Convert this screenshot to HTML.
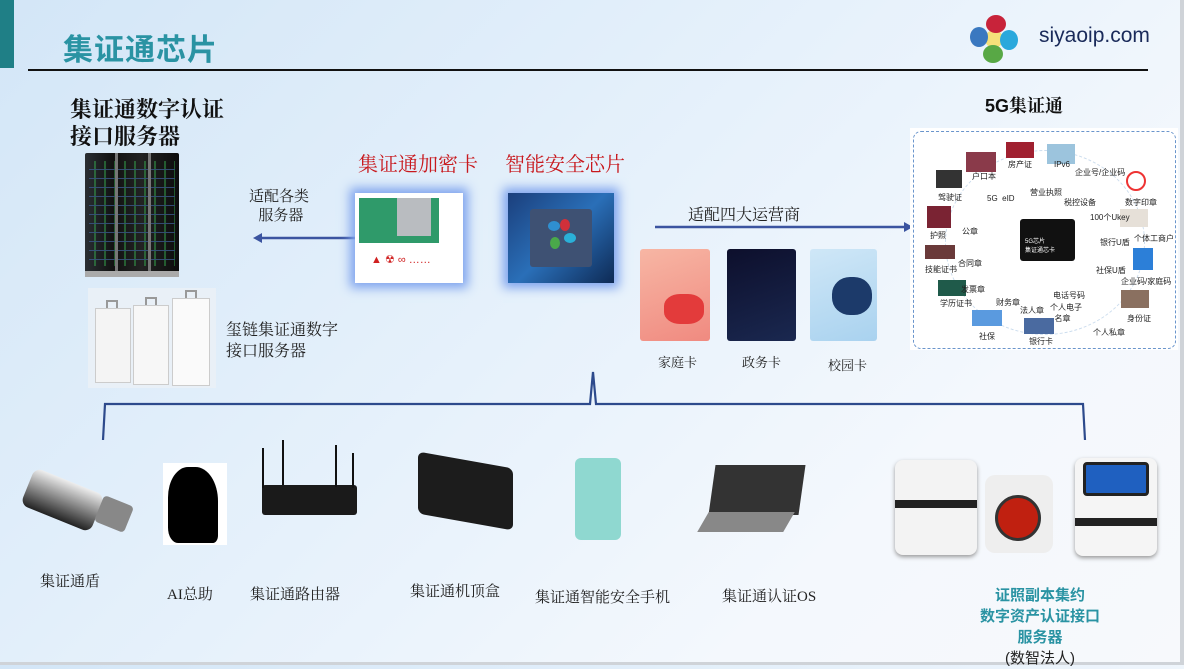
<!DOCTYPE html>
<html><head><meta charset="utf-8"><style>
*{margin:0;padding:0;box-sizing:border-box}
body{width:1184px;height:665px;overflow:hidden;position:relative;font-family:"Liberation Sans","Noto Sans CJK SC",sans-serif;background:linear-gradient(135deg,#d3e6f7 0%,#e6f1fb 45%,#f4f8fd 75%,#f7f9fc 100%)}
.a{position:absolute}
.serif{font-family:"Liberation Serif","Noto Serif CJK SC",serif}
.lbl{position:absolute;font-size:15px;color:#222;white-space:nowrap;font-family:"Liberation Serif","Noto Serif CJK SC",serif}
.sm{position:absolute;font-size:8px;color:#222;white-space:nowrap}
.led{background:repeating-linear-gradient(0deg,transparent 0 6px,#3a5a8a 6px 7px,transparent 7px 9px),repeating-linear-gradient(90deg,transparent 0 5px,rgba(60,200,90,.5) 5px 7px,transparent 7px 10px)}
</style></head><body>
<div class="a" style="left:0;top:0;width:14px;height:68px;background:#1f7f86"></div>
<div class="a" style="left:63px;top:25px;font-size:30px;font-weight:bold;color:#2a93a3;letter-spacing:1px">集证通芯片</div>
<div class="a" style="left:28px;top:69px;width:1120px;height:2px;background:#111"></div>
<div class="a" style="left:1180px;top:0;width:4px;height:665px;background:#cfd3d8"></div>
<div class="a" style="left:0;top:662px;width:1184px;height:3px;background:#cfd3d8"></div>
<svg class="a" style="left:968px;top:14px" width="52" height="50" viewBox="0 0 52 50">
<circle cx="26" cy="25" r="9" fill="#f5e07a"/>
<ellipse cx="28" cy="10" rx="10" ry="9" fill="#c8233a"/>
<ellipse cx="41" cy="26" rx="9" ry="10" fill="#2aa8dc"/>
<ellipse cx="25" cy="40" rx="10" ry="9" fill="#58a845"/>
<ellipse cx="11" cy="23" rx="9" ry="10" fill="#3a78c0"/>
</svg>
<div class="a" style="left:1039px;top:24px;font-size:21px;color:#1a2a5a">siyaoip.com</div>
<div class="a serif" style="left:70px;top:96px;font-size:22px;line-height:27px;color:#111;font-weight:bold">集证通数字认证<br>接口服务器</div>
<div class="a" style="left:85px;top:153px;width:94px;height:124px;background:linear-gradient(90deg,#2a2e33,#111 30%,#222 60%,#0c0c0c);border-radius:2px">
<div class="a led" style="left:4px;top:8px;width:86px;height:105px;opacity:.8"></div>
<div class="a" style="left:30px;top:0;width:3px;height:124px;background:#777"></div>
<div class="a" style="left:63px;top:0;width:3px;height:124px;background:#777"></div>
<div class="a" style="left:0;top:118px;width:94px;height:6px;background:#aaa"></div>
</div>
<div class="a" style="left:88px;top:288px;width:128px;height:100px;background:#e9f0f7"></div>
<div class="a" style="left:95px;top:308px;width:36px;height:75px;background:#f4f4f4;border:1px solid #ccc"></div>
<div class="a" style="left:133px;top:305px;width:36px;height:80px;background:#f7f7f7;border:1px solid #ccc"></div>
<div class="a" style="left:172px;top:298px;width:38px;height:88px;background:#fafafa;border:1px solid #ccc"></div>
<div class="a" style="left:106px;top:300px;width:12px;height:8px;border:2px solid #999;border-bottom:none"></div>
<div class="a" style="left:145px;top:297px;width:12px;height:8px;border:2px solid #999;border-bottom:none"></div>
<div class="a" style="left:185px;top:290px;width:12px;height:8px;border:2px solid #999;border-bottom:none"></div>
<div class="lbl" style="left:226px;top:320px;font-size:16px;line-height:21px">玺链集证通数字<br>接口服务器</div>
<div class="lbl" style="left:249px;top:188px;line-height:19px;text-align:center">适配各类<br>&nbsp;服务器</div>
<svg class="a" style="left:250px;top:230px" width="112" height="16"><line x1="10" y1="8" x2="112" y2="8" stroke="#3b54a0" stroke-width="2.5"/><polygon points="3,8 12,3 12,13" fill="#3b54a0"/></svg>
<div class="a serif" style="left:358px;top:148px;font-size:20px;color:#c8191e">集证通加密卡</div>
<div class="a serif" style="left:505px;top:148px;font-size:20px;color:#c8191e">智能安全芯片</div>
<div class="a" style="left:355px;top:193px;width:108px;height:90px;background:#fff;box-shadow:0 0 10px 5px #7fa4ee">
<div class="a" style="left:4px;top:5px;width:80px;height:45px;background:#2f9a6a"></div>
<div class="a" style="left:42px;top:5px;width:34px;height:38px;background:#b9bcc0"></div>
<div class="a" style="left:16px;top:60px;font-size:11px;color:#d02020">▲ ☢ ∞ ……</div>
</div>
<div class="a" style="left:508px;top:193px;width:106px;height:90px;background:linear-gradient(135deg,#1b3f7c,#2a6fb8 50%,#0e2a55);box-shadow:0 0 10px 5px #7fa4ee">
<div class="a" style="left:22px;top:16px;width:62px;height:58px;background:#3e5173;border-radius:3px"></div>
<div class="a" style="left:40px;top:28px;width:12px;height:10px;border-radius:50%;background:#2f8fd0"></div>
<div class="a" style="left:52px;top:26px;width:10px;height:12px;border-radius:50%;background:#d0303a"></div>
<div class="a" style="left:56px;top:40px;width:12px;height:10px;border-radius:50%;background:#2ab0d8"></div>
<div class="a" style="left:42px;top:44px;width:10px;height:12px;border-radius:50%;background:#4aa84a"></div>
</div>
<div class="lbl" style="left:688px;top:202px;font-size:16px">适配四大运营商</div>
<svg class="a" style="left:655px;top:219px" width="260" height="16"><line x1="0" y1="8" x2="250" y2="8" stroke="#3b54a0" stroke-width="2.5"/><polygon points="258,8 249,3 249,13" fill="#3b54a0"/></svg>
<div class="a" style="left:640px;top:249px;width:70px;height:92px;background:linear-gradient(160deg,#f7b6a4,#f08a80);border-radius:3px"><div class="a" style="left:24px;top:45px;width:40px;height:30px;background:#e33b3b;border-radius:40%"></div></div>
<div class="a" style="left:727px;top:249px;width:69px;height:92px;background:linear-gradient(160deg,#0d0f2c,#1a2850);border-radius:3px"></div>
<div class="a" style="left:810px;top:249px;width:67px;height:92px;background:linear-gradient(160deg,#cfe7f7,#a9d2ef);border-radius:3px"><div class="a" style="left:22px;top:28px;width:40px;height:38px;background:#1c3a6a;border-radius:45%"></div></div>
<div class="lbl" style="left:658px;top:352px;font-size:13px">家庭卡</div>
<div class="lbl" style="left:742px;top:352px;font-size:13px">政务卡</div>
<div class="lbl" style="left:828px;top:355px;font-size:13px">校园卡</div>
<div class="a" style="left:985px;top:92px;font-size:18px;font-weight:bold;color:#111">5G<span class="serif">集证通</span></div>
<div class="a" style="left:910px;top:128px;width:268px;height:222px;background:#fff"></div>
<div class="a" style="left:913px;top:131px;width:263px;height:218px;border:1.5px dashed #6a95cc;border-radius:8px"></div>
<div class="a" style="left:945px;top:150px;width:200px;height:185px;border:1px dashed #cde;border-radius:50%"></div>
<div class="a" style="left:1020px;top:219px;width:55px;height:42px;background:#111;border-radius:3px"></div>
<div class="sm" style="left:1025px;top:236px;color:#fff;font-size:6px">5G芯片<br>集证通芯卡</div>
<div class="a" style="left:1006px;top:142px;width:28px;height:16px;background:#a02030"></div>
<div class="a" style="left:1047px;top:144px;width:28px;height:20px;background:#9cc4dd"></div>
<div class="a" style="left:966px;top:152px;width:30px;height:20px;background:#8a3a4a"></div>
<div class="a" style="left:936px;top:170px;width:26px;height:18px;background:#333"></div>
<div class="a" style="left:927px;top:206px;width:24px;height:22px;background:#7a2333"></div>
<div class="a" style="left:925px;top:245px;width:30px;height:14px;background:#6a3a3a"></div>
<div class="a" style="left:938px;top:280px;width:28px;height:16px;background:#1f5a4a"></div>
<div class="a" style="left:972px;top:310px;width:30px;height:16px;background:#5a9adf"></div>
<div class="a" style="left:1024px;top:318px;width:30px;height:16px;background:#4a6aa0"></div>
<div class="a" style="left:1120px;top:209px;width:28px;height:18px;background:#e6e0d8"></div>
<div class="a" style="left:1133px;top:248px;width:20px;height:22px;background:#2c7fd8"></div>
<div class="a" style="left:1121px;top:290px;width:28px;height:18px;background:#8a7060"></div>
<div class="a" style="left:1126px;top:171px;width:20px;height:20px;border:2px solid #e33;border-radius:50%"></div>
<div class="sm" style="left:1008px;top:159px">房产证</div><div class="sm" style="left:1054px;top:160px">IPv6</div>
<div class="sm" style="left:972px;top:171px">户口本</div><div class="sm" style="left:1075px;top:167px">企业号/企业码</div>
<div class="sm" style="left:938px;top:192px">驾驶证</div><div class="sm" style="left:1030px;top:187px">营业执照</div>
<div class="sm" style="left:987px;top:194px">5G &nbsp;eID</div><div class="sm" style="left:1064px;top:197px">税控设备</div><div class="sm" style="left:1125px;top:197px">数字印章</div>
<div class="sm" style="left:1090px;top:212px">100个Ukey</div>
<div class="sm" style="left:930px;top:230px">护照</div><div class="sm" style="left:962px;top:226px">公章</div>
<div class="sm" style="left:1100px;top:237px">银行U盾</div><div class="sm" style="left:1134px;top:233px">个体工商户</div>
<div class="sm" style="left:925px;top:264px">技能证书</div><div class="sm" style="left:958px;top:258px">合同章</div>
<div class="sm" style="left:1096px;top:265px">社保U盾</div>
<div class="sm" style="left:1121px;top:276px">企业码/家庭码</div>
<div class="sm" style="left:961px;top:284px">发票章</div><div class="sm" style="left:1053px;top:290px">电话号码</div>
<div class="sm" style="left:940px;top:298px">学历证书</div><div class="sm" style="left:996px;top:297px">财务章</div>
<div class="sm" style="left:1050px;top:302px">个人电子<br>&nbsp;&nbsp;名章</div>
<div class="sm" style="left:1020px;top:305px">法人章</div><div class="sm" style="left:1127px;top:313px">身份证</div>
<div class="sm" style="left:1093px;top:327px">个人私章</div>
<div class="sm" style="left:979px;top:331px">社保</div><div class="sm" style="left:1029px;top:336px">银行卡</div>
<svg class="a" style="left:0;top:360px" width="1184" height="90"><path d="M103,80 L105,44 L590,44 L593,12 L596,44 L1083,44 L1085,80" fill="none" stroke="#2d4a8c" stroke-width="2.2"/></svg>
<div class="a" style="left:25px;top:480px;width:75px;height:40px;background:linear-gradient(#eee,#222);border-radius:8px;transform:rotate(22deg)"></div>
<div class="a" style="left:98px;top:500px;width:32px;height:28px;background:#888;border-radius:4px;transform:rotate(22deg)"></div>
<div class="a" style="left:163px;top:463px;width:64px;height:82px;background:#fff"><div class="a" style="left:5px;top:4px;width:50px;height:76px;background:#000;border-radius:40% 45% 10% 20%"></div></div>
<div class="a" style="left:262px;top:485px;width:95px;height:30px;background:#1a1a1a;border-radius:3px"></div>
<div class="a" style="left:262px;top:448px;width:2px;height:40px;background:#111"></div><div class="a" style="left:282px;top:440px;width:2px;height:45px;background:#111"></div>
<div class="a" style="left:335px;top:445px;width:2px;height:42px;background:#111"></div><div class="a" style="left:352px;top:453px;width:2px;height:35px;background:#111"></div>
<div class="a" style="left:418px;top:460px;width:95px;height:62px;background:#1c1c1c;border-radius:6px;transform:skewY(10deg)"></div>
<div class="a" style="left:575px;top:458px;width:46px;height:82px;background:#8fd8d0;border-radius:6px"></div>
<div class="a" style="left:712px;top:465px;width:90px;height:50px;background:#333;transform:skewX(-8deg)"></div>
<div class="a" style="left:703px;top:512px;width:86px;height:20px;background:#888;transform:skewX(-30deg)"></div>
<div class="a" style="left:895px;top:460px;width:82px;height:95px;background:#f3f3f3;border-radius:8px;box-shadow:0 2px 4px #999"><div class="a" style="left:0;top:40px;width:82px;height:8px;background:#222"></div></div>
<div class="a" style="left:985px;top:475px;width:68px;height:78px;background:#eee;border-radius:10px"><div class="a" style="left:10px;top:20px;width:46px;height:46px;background:#c02010;border-radius:50%;border:3px solid #333"></div></div>
<div class="a" style="left:1075px;top:458px;width:82px;height:98px;background:#f5f5f5;border-radius:8px;box-shadow:0 2px 4px #999"><div class="a" style="left:8px;top:4px;width:66px;height:34px;background:#1f60c0;border-radius:4px;border:3px solid #222"></div><div class="a" style="left:0;top:60px;width:82px;height:8px;background:#222"></div></div>
<div class="lbl" style="left:40px;top:570px">集证通盾</div>
<div class="lbl" style="left:167px;top:583px">AI总助</div>
<div class="lbl" style="left:250px;top:583px">集证通路由器</div>
<div class="lbl" style="left:410px;top:580px">集证通机顶盒</div>
<div class="lbl" style="left:535px;top:586px">集证通智能安全手机</div>
<div class="lbl" style="left:722px;top:585px">集证通认证OS</div>
<div class="a" style="left:960px;top:585px;width:160px;text-align:center;font-size:15px;line-height:21px;font-weight:bold;color:#2a93a3">证照副本集约<br>数字资产认证接口<br>服务器<br><span style="font-weight:normal;color:#222">(数智法人)</span></div>
</body></html>
